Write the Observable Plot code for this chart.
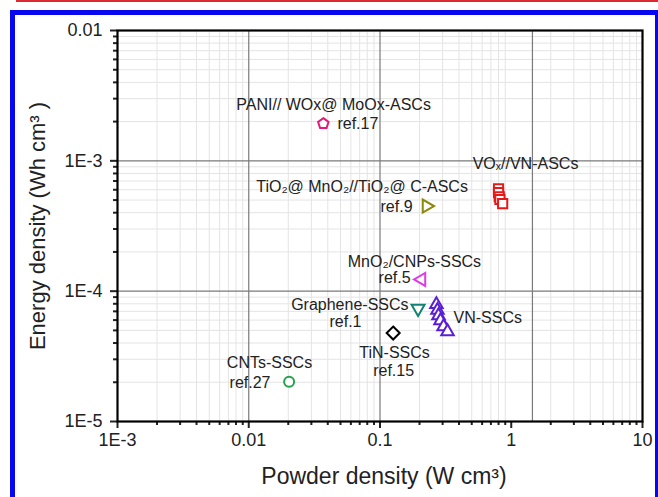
<!DOCTYPE html>
<html>
<head>
<meta charset="utf-8">
<script src="https://cdn.jsdelivr.net/npm/d3@7"></script>
<script src="https://cdn.jsdelivr.net/npm/@observablehq/plot@0.6"></script>
<style>
  html, body { margin: 0; padding: 0; background: #fff; }
  body { width: 658px; height: 497px; position: relative; overflow: hidden; }
  #chart { position: absolute; left: 0; top: 0; }
  #redline { position: absolute; left: 16px; top: 0; width: 642px; height: 2px; background: #dc2a30; }
  #blueframe { position: absolute; left: 10px; top: 10px; width: 648px; height: 500px; box-sizing: border-box;
    border-left: 5px solid #0808f0; border-top: 5px solid #0808f0; border-right: 3px solid #0808f0; }
</style>
</head>
<body>
<div id="chart"></div>
<div id="redline"></div>
<div id="blueframe"></div>
<script>
// ---- data ----
const paniX = [0.037],  paniY = [1.93e-3];
const tioX  = [0.226],  tioY  = [4.5e-4];
const voxX  = [0.80, 0.80, 0.81, 0.82, 0.86];
const voxY  = [6.1e-4, 5.7e-4, 5.3e-4, 5.05e-4, 4.7e-4];
const mnoX  = [0.207],  mnoY  = [1.23e-4];
const graX  = [0.195],  graY  = [7.35e-5];
const vnX   = [0.269, 0.274, 0.279, 0.289, 0.305, 0.327];
const vnY   = [7.9e-5, 7.15e-5, 6.5e-5, 5.95e-5, 5.35e-5, 4.9e-5];
const tinX  = [0.126],  tinY  = [4.77e-5];
const cntX  = [0.0203], cntY  = [2.02e-5];

const labelText = ["PANI// WOx@ MoOx-ASCs", "ref.17", "TiO₂@ MnO₂//TiO₂@ C-ASCs", "ref.9",
  "VOₓ//VN-ASCs", "MnO₂/CNPs-SSCs", "ref.5", "Graphene-SSCs", "ref.1", "VN-SSCs",
  "TiN-SSCs", "ref.15", "CNTs-SSCs", "ref.27"];
const labelX = [0.0443, 0.0474, 0.073, 0.177, 1.285, 0.183, 0.171, 0.165, 0.0546, 0.363, 0.129, 0.127, 0.01439, 0.01465];
const labelY = [2.7e-3, 1.93e-3, 6.35e-4, 4.4e-4, 9.5e-4, 1.69e-4, 1.27e-4, 7.9e-5, 5.85e-5, 6.27e-5, 3.38e-5, 2.46e-5, 2.83e-5, 1.99e-5];
const labelAnchor = ["middle", "start", "middle", "end", "middle", "middle", "end", "end", "middle", "start", "middle", "middle", "middle", "end"];

const xTicks = [0.001, 0.01, 0.1, 1, 10];
const xTickLabels = ["1E-3", "0.01", "0.1", "1", "10"];
const yTicks = [1e-5, 1e-4, 1e-3, 1e-2];
const yTickLabels = ["1E-5", "1E-4", "1E-3", "0.01"];
const xMajorGrid = [0.01, 0.1, 1.45];
const yMajorGrid = [1e-4, 1e-3];
const minorMult = [2, 3, 4, 5, 6, 7, 8, 9];
const xDecades = [0.001, 0.01, 0.1, 1];
const yDecades = [1e-5, 1e-4, 1e-3];

// ---- helpers ----
const zip = (xs, ys) => xs.map((x, i) => ({x, y: ys[i]}));
const xMinor = xDecades.flatMap(d => minorMult.map(m => m * d));
const yMinor = yDecades.flatMap(d => minorMult.map(m => m * d));
const xLab = new Map(xTicks.map((t, i) => [t, xTickLabels[i]]));
const yLab = new Map(yTicks.map((t, i) => [t, yTickLabels[i]]));
const labels = labelText.map((t, i) => ({text: t, x: labelX[i], y: labelY[i], anchor: labelAnchor[i]}));

const R = s => Math.sqrt(s / Math.PI);
const pentagon = {draw(c, s) { const r = R(s);
  for (let i = 0; i < 5; i++) { const a = -Math.PI / 2 + i * 2 * Math.PI / 5;
    i ? c.lineTo(r * Math.cos(a), r * Math.sin(a)) : c.moveTo(r * Math.cos(a), r * Math.sin(a)); }
  c.closePath(); }};
const triUp = {draw(c, s) { const r = R(s), h = r * Math.sqrt(3) / 2;
  c.moveTo(0, -r); c.lineTo(h, r / 2); c.lineTo(-h, r / 2); c.closePath(); }};
const triDown = {draw(c, s) { const r = R(s), h = r * Math.sqrt(3) / 2;
  c.moveTo(0, r); c.lineTo(h, -r / 2); c.lineTo(-h, -r / 2); c.closePath(); }};
const triRight = {draw(c, s) { const r = R(s), h = r * Math.sqrt(3) / 2;
  c.moveTo(r, 0); c.lineTo(-r / 2, h); c.lineTo(-r / 2, -h); c.closePath(); }};
const triLeft = {draw(c, s) { const r = R(s), h = r * Math.sqrt(3) / 2;
  c.moveTo(-r, 0); c.lineTo(r / 2, h); c.lineTo(r / 2, -h); c.closePath(); }};
const square = {draw(c, s) { const r = R(s); c.rect(-r, -r, 2 * r, 2 * r); }};
const diamond = {draw(c, s) { const r = R(s);
  c.moveTo(0, -r); c.lineTo(r, 0); c.lineTo(0, r); c.lineTo(-r, 0); c.closePath(); }};

const dotMark = (xs, ys, symbol, r, stroke) =>
  Plot.dot(zip(xs, ys), {x: "x", y: "y", symbol, r, stroke, fill: "white", strokeWidth: 2});

const labelMark = anchor =>
  Plot.text(labels.filter(d => d.anchor === anchor),
    {x: "x", y: "y", text: "text", textAnchor: anchor, fontSize: 16, fill: "#222"});

const plot = Plot.plot({
  width: 658, height: 497,
  marginLeft: 117, marginRight: 16, marginTop: 30, marginBottom: 76,
  x: {type: "log", domain: [1e-3, 10]},
  y: {type: "log", domain: [1e-5, 1e-2]},
  style: {fontFamily: "'Liberation Sans', Arial, sans-serif", fontSize: "18px", color: "#222", background: "transparent"},
  marks: [
    Plot.ruleX(xMinor, {stroke: "#e4e4e4", strokeWidth: 1}),
    Plot.ruleY(yMinor, {stroke: "#e4e4e4", strokeWidth: 1}),
    Plot.ruleX(xMajorGrid, {stroke: "#7a7a7a", strokeWidth: 1.2}),
    Plot.ruleY(yMajorGrid, {stroke: "#7a7a7a", strokeWidth: 1.2}),
    Plot.axisX(xMinor, {tickSize: 4, strokeWidth: 2, tickFormat: () => "", label: null}),
    Plot.axisY(yMinor, {tickSize: 4, strokeWidth: 2, tickFormat: () => "", label: null}),
    Plot.axisX(xTicks, {tickSize: 7, strokeWidth: 2, tickPadding: 5, fontSize: 18, fill: "#222",
      tickFormat: d => xLab.get(d), label: null}),
    Plot.axisY(yTicks, {tickSize: 7, strokeWidth: 2, tickPadding: 8, fontSize: 18, fill: "#222",
      tickFormat: d => yLab.get(d), label: null}),
    Plot.frame({stroke: "black", strokeWidth: 2.2}),
    dotMark(paniX, paniY, pentagon, 5.5, "#e8187a"),
    dotMark(tioX, tioY, triRight, 7.5, "#8a8a08"),
    dotMark(voxX, voxY, square, 4.6, "#e81818"),
    dotMark(mnoX, mnoY, triLeft, 7.5, "#e03ae8"),
    dotMark(graX, graY, triDown, 7.5, "#128272"),
    dotMark(vnX, vnY, triUp, 7.2, "#5a1ed4"),
    dotMark(tinX, tinY, diamond, 6.5, "#000"),
    dotMark(cntX, cntY, "circle", 5, "#22a34a"),
    labelMark("start"),
    labelMark("middle"),
    labelMark("end"),
    Plot.text(["Energy density (Wh cm³ )"], {frameAnchor: "left", textAnchor: "middle", dx: -80, rotate: -90, fontSize: 22, fill: "#222"}),
    Plot.text(["Powder density (W cm³)"], {frameAnchor: "bottom", textAnchor: "middle", dy: 62, dx: 4, fontSize: 23, fill: "#222"})
  ]
});
document.getElementById("chart").appendChild(plot);
</script>
</body>
</html>
